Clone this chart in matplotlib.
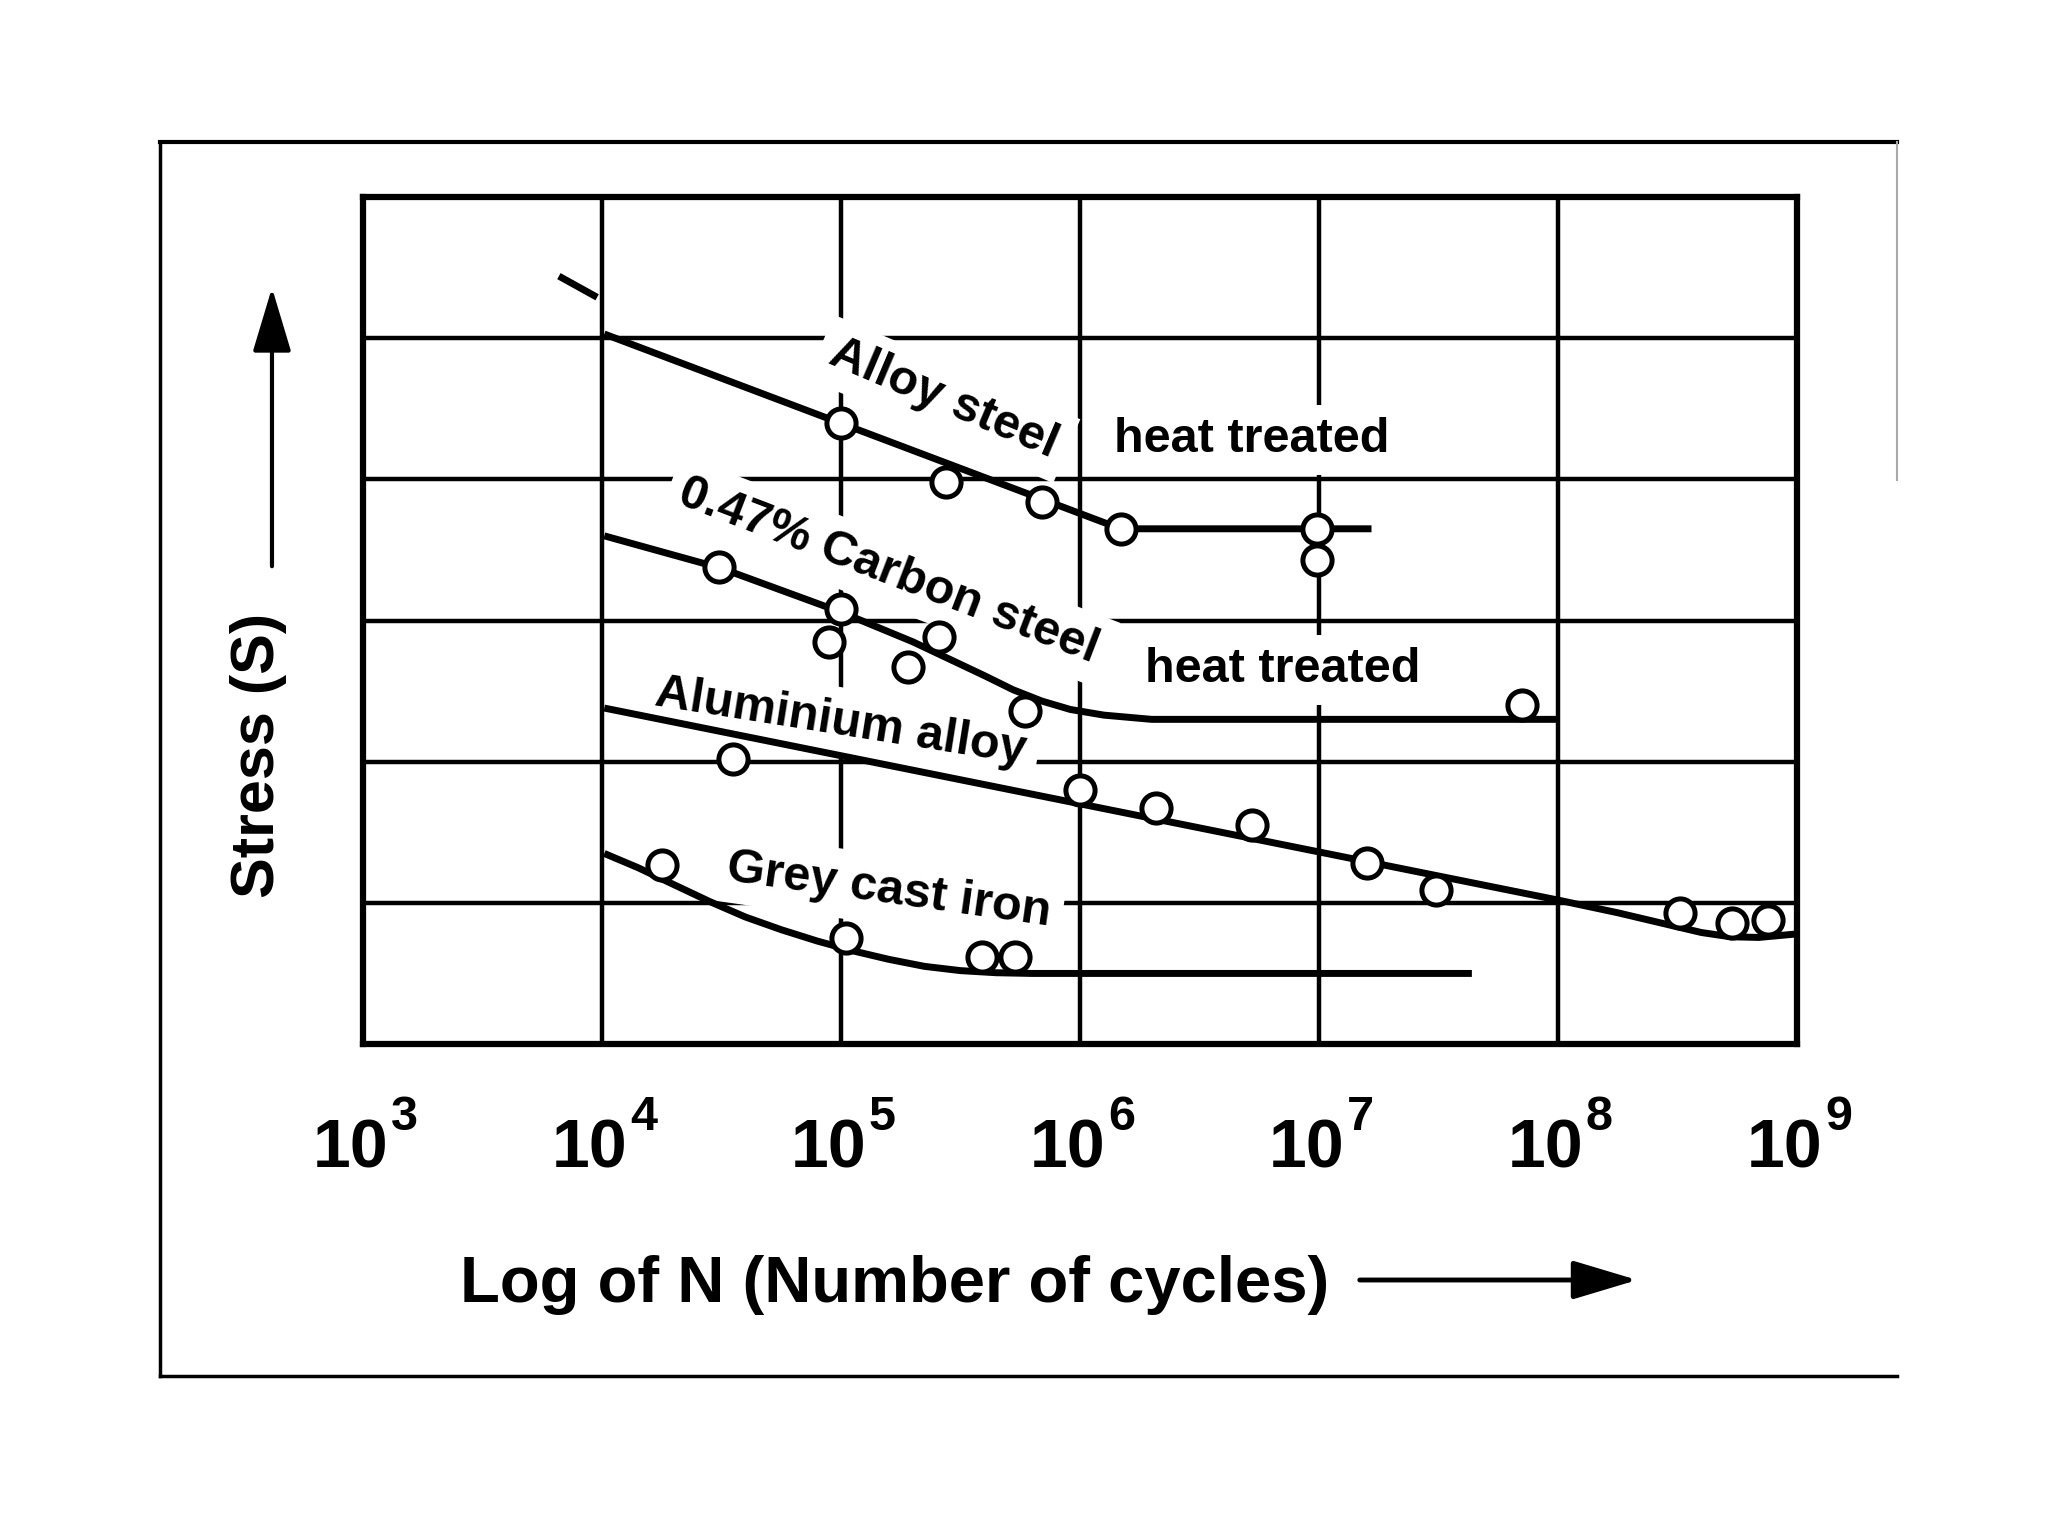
import matplotlib
matplotlib.use('Agg')
import matplotlib.pyplot as plt
from matplotlib.lines import Line2D
from matplotlib.patches import FancyArrowPatch

plt.rcParams['font.family'] = ['Liberation Sans', 'DejaVu Sans']
plt.rcParams['font.weight'] = 'bold'

# ---------------- data (x = log10 N, y = stress in grid units) ----------------
decades = [3, 4, 5, 6, 7, 8, 9]
exponents = ['3', '4', '5', '6', '7', '8', '9']
stress_levels = [0, 1, 2, 3, 4, 5, 6]

# Alloy steel heat treated
alloy_tick_x = [3.82, 3.98]
alloy_tick_y = [5.44, 5.29]
alloy_line_x = [4.01, 6.17, 7.22]
alloy_line_y = [5.03, 3.65, 3.65]
alloy_pts_x = [5.00, 5.44, 5.84, 6.17, 6.99, 6.99]
alloy_pts_y = [4.40, 3.98, 3.84, 3.65, 3.65, 3.43]

# 0.47% carbon steel heat treated
carbon_line_x = [4.01, 4.5, 5.0, 5.3, 5.45, 5.6, 5.72, 5.84, 5.96, 6.1, 6.3, 8.0]
carbon_line_y = [3.60, 3.37, 3.06, 2.85, 2.73, 2.61, 2.51, 2.43, 2.37, 2.33, 2.30, 2.30]
carbon_pts_x = [4.49, 5.00, 4.95, 5.41, 5.28, 5.77, 7.85]
carbon_pts_y = [3.38, 3.08, 2.85, 2.88, 2.67, 2.36, 2.40]

# Aluminium alloy
alu_line_x = [4.01, 8.0, 8.25, 8.45, 8.6, 8.72, 8.84, 9.0]
alu_line_y = [2.38, 1.02, 0.93, 0.85, 0.79, 0.76, 0.755, 0.78]
alu_pts_x = [4.55, 6.00, 6.32, 6.72, 7.20, 7.49, 8.51, 8.73, 8.88]
alu_pts_y = [2.02, 1.80, 1.67, 1.55, 1.28, 1.09, 0.93, 0.86, 0.88]

# Grey cast iron
grey_line_x = [4.01, 4.15, 4.3, 4.45, 4.6, 4.75, 4.9, 5.05, 5.2, 5.35, 5.5, 5.65, 5.8, 7.64]
grey_line_y = [1.35, 1.25, 1.13, 1.01, 0.90, 0.81, 0.73, 0.66, 0.60, 0.55, 0.52, 0.505, 0.50, 0.50]
grey_pts_x = [4.25, 5.02, 5.59, 5.73]
grey_pts_y = [1.27, 0.75, 0.62, 0.62]

labels = ['Alloy steel', 'heat treated', '0.47% Carbon steel', 'heat treated',
          'Aluminium alloy', 'Grey cast iron']
label_x = [5.43, 6.72, 5.20, 6.85, 5.00, 5.20]
label_y = [4.57, 4.28, 3.35, 2.65, 2.28, 1.09]
label_rot = [-23, 0, -21, 0, -9, -8]

# ---------------- figure ----------------
fig = plt.figure(figsize=(20.48, 15.36), dpi=100)
ax = fig.add_axes([0.1772, 0.3203, 0.7002, 0.5514])

ax.set_xlim(3, 9)
ax.set_ylim(0, 6)
ax.set_xticks(decades)
ax.set_xticklabels([])
ax.set_yticks(stress_levels)
ax.set_yticklabels([])
ax.tick_params(axis='both', length=0)
ax.set_axisbelow(True)
ax.grid(True, color='black', lw=3.2)
for s in ax.spines.values():
    s.set_linewidth(4.5)

# decade labels 10^n under the grid lines
xt = ax.get_xaxis_transform()
for d, e in zip(decades, exponents):
    ax.annotate('10', xy=(d, 0), xycoords=xt, xytext=(25, -123),
                textcoords='offset pixels', ha='right', va='baseline',
                fontsize=49, annotation_clip=False)
    ax.annotate(e, xy=(d, 0), xycoords=xt, xytext=(28, -86),
                textcoords='offset pixels', ha='left', va='baseline',
                fontsize=35, annotation_clip=False)

line_kw = dict(color='black', lw=5, zorder=4, solid_capstyle='butt',
               solid_joinstyle='round')
pt_kw = dict(ls='none', marker='o', ms=21, mew=3.6, mec='black', mfc='white', zorder=5)

ax.plot(alloy_tick_x, alloy_tick_y, **line_kw)
ax.plot(alloy_line_x, alloy_line_y, **line_kw)
ax.plot(alloy_pts_x, alloy_pts_y, **pt_kw)
ax.plot(carbon_line_x, carbon_line_y, **line_kw)
ax.plot(carbon_pts_x, carbon_pts_y, **pt_kw)
ax.plot(alu_line_x, alu_line_y, **line_kw)
ax.plot(alu_pts_x, alu_pts_y, **pt_kw)
ax.plot(grey_line_x, grey_line_y, **line_kw)
ax.plot(grey_pts_x, grey_pts_y, **pt_kw)

for t, x, y, r in zip(labels, label_x, label_y, label_rot):
    ax.text(x, y, t, fontsize=35, rotation=r, ha='center', va='center',
            rotation_mode='anchor', zorder=3,
            bbox=dict(boxstyle='square,pad=0.25', fc='white', ec='none'))

# axis titles with arrows
fig.text(0.126, 0.508, 'Stress (S)', rotation=90, fontsize=44,
         ha='center', va='center')
fig.add_artist(FancyArrowPatch(
    (0.1328, 1 - 569 / 1536), (0.1328, 1 - 285 / 1536), transform=fig.transFigure,
    arrowstyle='-|>,head_length=2.0,head_width=0.6', mutation_scale=20,
    lw=3, color='black'))

fig.text(0.437, 1 - 1302 / 1536, 'Log of N (Number of cycles)', fontsize=47,
         ha='center', va='baseline')
fig.add_artist(FancyArrowPatch(
    (1357 / 2048, 1 - 1280 / 1536), (1640 / 2048, 1 - 1280 / 1536),
    transform=fig.transFigure,
    arrowstyle='-|>,head_length=2.0,head_width=0.6', mutation_scale=20,
    lw=3.5, color='black'))

# outer frame of the scanned figure
fl, fr, ft, fb = 160 / 2048, 1897 / 2048, 1 - 142 / 1536, 1 - 1376 / 1536
fig.add_artist(Line2D([fl, fr], [ft, ft], color='black', lw=3, transform=fig.transFigure))
fig.add_artist(Line2D([fl, fl], [ft, fb], color='black', lw=2.5, transform=fig.transFigure))
fig.add_artist(Line2D([fl, fr], [fb, fb], color='black', lw=2.5, transform=fig.transFigure))
fig.add_artist(Line2D([fr, fr], [ft, 1 - 480 / 1536], color='#aaaaaa', lw=1.5,
                      transform=fig.transFigure))

fig.savefig('out.png', dpi=100)
